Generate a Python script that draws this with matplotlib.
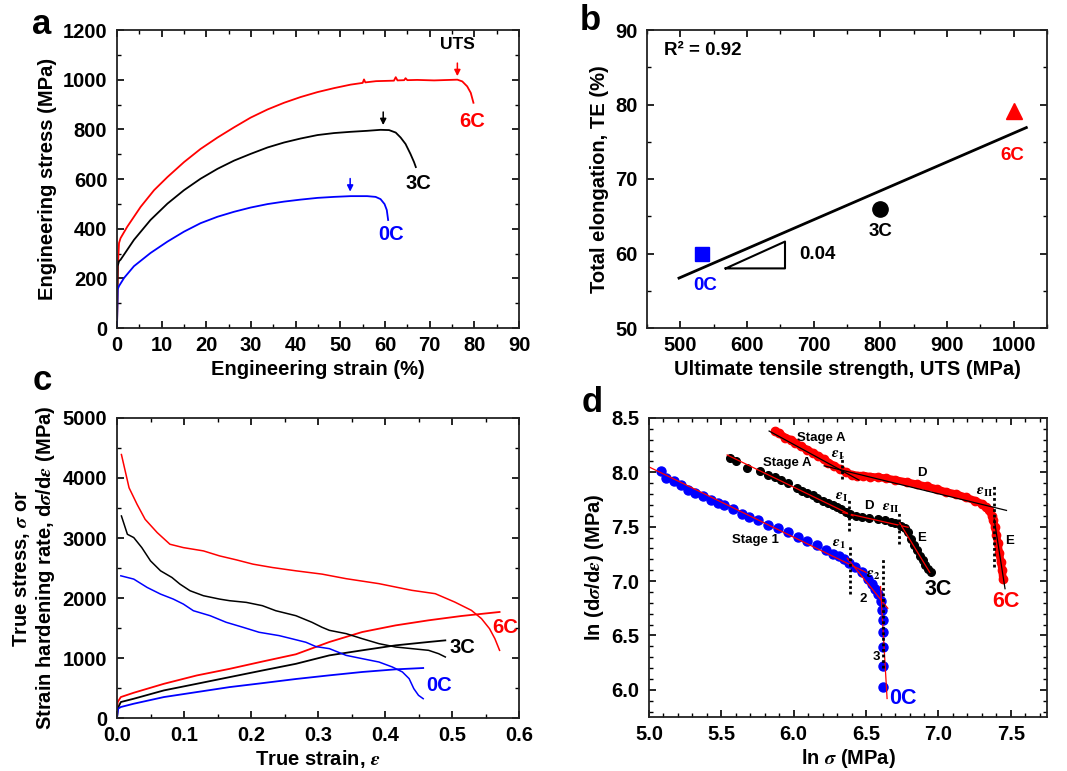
# -*- coding: utf-8 -*-
"""
Four-panel tensile figure:
a) engineering stress-strain, b) TE vs UTS, c) true stress / hardening rate,
d) ln(dσ/dε) vs ln σ with stage fits.
"""

import matplotlib
matplotlib.use("Agg")
import matplotlib.pyplot as plt
from matplotlib.ticker import MultipleLocator

plt.rcParams["font.family"] = ["Liberation Sans", "DejaVu Sans"]
plt.rcParams["font.weight"] = "bold"
plt.rcParams["axes.labelweight"] = "bold"
plt.rcParams["mathtext.fontset"] = "stix"

RED, BLACK, BLUE = "#ff0000", "#000000", "#0000ff"

# -------------------------------------------------------------------
# a) engineering stress (MPa) vs engineering strain (%)
# -------------------------------------------------------------------
eng_strain_6c = [0, 0.2, 0.45, 0.8, 2.3, 5.3, 8.3, 11.3, 15, 18.7, 22.5, 26.2, 29.9, 33.7,
                 37.4, 41.1, 44.9, 48.6, 52.3, 55.0, 55.3, 55.6, 58.0, 62.0, 62.4, 62.8,
                 64.3, 64.6, 65.0, 67.2, 71, 76.2, 77.3, 78.4, 79.2, 79.8]
eng_stress_6c = [0, 249, 342, 362, 408, 488, 555, 608, 668, 721, 767, 808, 847, 880,
                 907, 930, 950, 966, 980, 987, 1001, 989, 994, 996, 1010, 997,
                 998, 1006, 998, 999, 997, 1000, 993, 973, 947, 907]
eng_strain_3c = [0, 0.15, 0.45, 0.8, 3.8, 7.5, 11.3, 15, 18.7, 22.5, 26.2, 29.9, 33.7, 37.4,
                 41.1, 44.9, 48.6, 52.3, 56, 59, 60.9, 62.4, 63.5, 64.6, 65.7, 66.5, 66.9]
eng_stress_3c = [0, 249, 269, 275, 355, 435, 501, 555, 601, 641, 674, 701, 727, 747,
                 763, 777, 785, 790, 794, 798, 797, 787, 767, 741, 701, 668, 648]
eng_strain_0c = [0, 0.15, 0.45, 1.6, 3.8, 7.5, 11.3, 15, 18.7, 22.5, 26.2, 29.9, 33.7, 37.4,
                 41.1, 44.9, 48.6, 52.3, 56, 57.9, 59, 59.9, 60.4, 60.7]
eng_stress_0c = [0, 156, 169, 202, 249, 302, 348, 388, 422, 448, 468, 485, 499, 509,
                 517, 524, 528, 531, 531, 528, 519, 499, 475, 435]

# UTS arrows: (strain, stress at arrow tip)
uts_arrows = [(76.2, 1003, RED), (59.6, 806, BLACK), (52.2, 538, BLUE)]

# -------------------------------------------------------------------
# b) total elongation vs UTS
# -------------------------------------------------------------------
uts_mpa = [533, 799, 1000]
te_pct = [60.0, 66.0, 79.1]
fit_uts = [498, 1019]
fit_te = [56.7, 76.9]
slope_tri_x = [568, 657, 657, 568]
slope_tri_y = [58.0, 58.0, 61.6, 58.0]

# -------------------------------------------------------------------
# c) true stress and strain hardening rate vs true strain
# -------------------------------------------------------------------
hr_strain_6c = [0.0066, 0.018, 0.030, 0.042, 0.060, 0.079, 0.099, 0.129, 0.153, 0.178,
                0.203, 0.232, 0.267, 0.306, 0.342, 0.391, 0.44, 0.475, 0.504, 0.529,
                0.544, 0.556, 0.564, 0.571]
hr_6c = [4391, 3837, 3560, 3311, 3090, 2896, 2840, 2785, 2702, 2636,
         2564, 2508, 2453, 2398, 2322, 2239, 2128, 2072, 1933, 1794,
         1656, 1489, 1322, 1128]
ts_strain_6c = [0, 0.001, 0.0057, 0.025, 0.070, 0.119, 0.168, 0.217, 0.267, 0.317,
                0.366, 0.416, 0.465, 0.514, 0.571]
ts_6c = [0, 266, 349, 421, 570, 709, 819, 941, 1062, 1267, 1433, 1544, 1628, 1700, 1767]

hr_strain_3c = [0.0066, 0.0155, 0.025, 0.037, 0.050, 0.065, 0.082, 0.094, 0.109, 0.129,
                0.153, 0.168, 0.193, 0.217, 0.237, 0.267, 0.291, 0.306, 0.317, 0.342,
                0.366, 0.391, 0.416, 0.44, 0.465, 0.48, 0.49]
hr_3c = [3367, 3062, 3007, 2840, 2619, 2453, 2342, 2231, 2121, 2038,
         1982, 1955, 1927, 1872, 1788, 1705, 1595, 1512, 1461, 1406,
         1322, 1239, 1183, 1156, 1128, 1072, 1017]
ts_strain_3c = [0, 0.001, 0.0057, 0.025, 0.070, 0.119, 0.168, 0.217, 0.267, 0.317,
                0.366, 0.416, 0.465, 0.49]
ts_3c = [0, 155, 266, 321, 460, 570, 681, 792, 903, 1044, 1128, 1211, 1267, 1294]

hr_strain_0c = [0.0057, 0.025, 0.045, 0.065, 0.084, 0.099, 0.114, 0.139, 0.163, 0.188,
                0.212, 0.242, 0.262, 0.282, 0.297, 0.317, 0.342, 0.366, 0.391, 0.411,
                0.426, 0.436, 0.443, 0.45, 0.457]
hr_0c = [2370, 2315, 2176, 2065, 1982, 1899, 1788, 1705, 1595, 1512,
         1429, 1373, 1318, 1262, 1190, 1156, 1044, 989, 933, 850,
         767, 656, 489, 378, 322]
ts_strain_0c = [0, 0.0017, 0.0057, 0.025, 0.070, 0.119, 0.168, 0.217, 0.267, 0.317,
                0.366, 0.416, 0.457]
ts_0c = [0, 155, 183, 238, 349, 432, 515, 581, 650, 711, 767, 811, 833]

# -------------------------------------------------------------------
# d) ln(dσ/dε) vs ln σ
# -------------------------------------------------------------------
ln_s_0c = [5.08, 5.12, 5.17, 5.22, 5.27, 5.32, 5.37, 5.43, 5.48, 5.52, 5.58, 5.64, 5.69,
           5.75, 5.82, 5.89, 5.96, 6.03, 6.09, 6.16, 6.22, 6.27, 6.31, 6.35, 6.38, 6.42,
           6.47, 6.51, 6.54, 6.56, 6.58, 6.60, 6.61, 6.62, 6.62, 6.62, 6.62, 6.62]
ln_h_0c = [8.01, 7.95, 7.92, 7.88, 7.84, 7.81, 7.78, 7.75, 7.72, 7.70, 7.66, 7.62, 7.59,
           7.56, 7.52, 7.49, 7.45, 7.41, 7.37, 7.33, 7.29, 7.25, 7.23, 7.20, 7.17, 7.13,
           7.08, 7.02, 6.97, 6.93, 6.88, 6.82, 6.73, 6.64, 6.53, 6.39, 6.22, 6.03]
ln_s_3c = [5.56, 5.60, 5.68, 5.77, 5.82, 5.87, 5.91, 5.96, 6.02, 6.06, 6.09, 6.13, 6.16,
           6.20, 6.24, 6.27, 6.30, 6.33, 6.36, 6.39, 6.43, 6.47, 6.52, 6.58, 6.63, 6.67,
           6.70, 6.74, 6.77, 6.79, 6.81, 6.83, 6.85, 6.87, 6.89, 6.91, 6.93, 6.95]
ln_h_3c = [8.13, 8.10, 8.04, 8.01, 7.98, 7.96, 7.93, 7.90, 7.86, 7.83, 7.81, 7.79, 7.76,
           7.74, 7.72, 7.70, 7.68, 7.66, 7.64, 7.62, 7.60, 7.59, 7.58, 7.57, 7.56, 7.54,
           7.53, 7.51, 7.49, 7.45, 7.39, 7.33, 7.29, 7.23, 7.19, 7.15, 7.11, 7.08]
ln_s_6c = [5.87, 5.90, 5.94, 5.98, 6.01, 6.05, 6.09, 6.13, 6.17, 6.21, 6.24, 6.28, 6.32,
           6.36, 6.40, 6.44, 6.48, 6.53, 6.58, 6.64, 6.70, 6.78, 6.85, 6.92, 6.99, 7.05,
           7.12, 7.19, 7.25, 7.30, 7.33, 7.35, 7.37, 7.38, 7.39, 7.40, 7.41, 7.42, 7.43,
           7.44, 7.445]
ln_h_6c = [8.38, 8.36, 8.32, 8.30, 8.27, 8.24, 8.21, 8.18, 8.15, 8.12, 8.09, 8.06, 8.03,
           8.00, 7.98, 7.97, 7.97, 7.96, 7.955, 7.945, 7.93, 7.91, 7.89, 7.87, 7.845, 7.82,
           7.80, 7.77, 7.74, 7.71, 7.68, 7.65, 7.60, 7.56, 7.50, 7.42, 7.35, 7.26, 7.18,
           7.10, 7.02]

# stage fits: ((x0, x1), (y0, y1))
fits_0c = [((5.0, 6.50), (8.05, 7.08)), ((6.37, 6.65), (7.21, 6.75)), ((6.60, 6.645), (6.95, 5.92))]
fits_3c = [((5.54, 6.41), (8.16, 7.60)), ((6.34, 6.79), (7.63, 7.495)), ((6.73, 6.94), (7.54, 7.08))]
fits_6c = [((5.83, 6.45), (8.38, 7.93)), ((6.21, 7.47), (8.06, 7.65)), ((7.385, 7.46), (7.57, 6.93))]
# transition strains (dotted): (x, y_low, y_high)
transitions = [(6.39, 6.88, 7.33), (6.614, 6.20, 7.21), (6.383, 7.46, 7.76),
               (6.726, 7.34, 7.63), (6.332, 7.94, 8.15), (7.385, 7.13, 7.89)]


def style_ax(ax):
    ax.tick_params(which="both", direction="in", top=True, right=True, labelsize=14.5)
    ax.tick_params(axis="x", which="major", pad=6)
    ax.tick_params(axis="y", which="major", pad=7)
    ax.tick_params(which="major", length=5, width=1.2)
    ax.tick_params(which="minor", length=3, width=1.0)
    for s in ax.spines.values():
        s.set_linewidth(1.3)
        s.set_color("#222222")


def panel_a(ax):
    ax.plot(eng_strain_6c, eng_stress_6c, color=RED, lw=1.3)
    ax.plot(eng_strain_3c, eng_stress_3c, color=BLACK, lw=1.3)
    ax.plot(eng_strain_0c, eng_stress_0c, color=BLUE, lw=1.3)
    for x, y, c in uts_arrows:
        ax.annotate("", xy=(x, y), xytext=(x, y + 75),
                    arrowprops=dict(arrowstyle="-|>", color=c, lw=1.1, mutation_scale=9))
    ax.text(76.2, 1140, "UTS", ha="center", va="center", fontsize=12.5)
    ax.text(79.6, 831, "6C", color=RED, ha="center", va="center", fontsize=14.5)
    ax.text(67.5, 581, "3C", color=BLACK, ha="center", va="center", fontsize=14.5)
    ax.text(61.3, 375, "0C", color=BLUE, ha="center", va="center", fontsize=14.5)
    ax.set_xlim(0, 90)
    ax.set_ylim(0, 1200)
    ax.xaxis.set_major_locator(MultipleLocator(10))
    ax.xaxis.set_minor_locator(MultipleLocator(5))
    ax.yaxis.set_major_locator(MultipleLocator(200))
    ax.yaxis.set_minor_locator(MultipleLocator(100))
    ax.set_xlabel("Engineering strain (%)", fontsize=14.5, labelpad=3)
    ax.set_ylabel("Engineering stress (MPa)", fontsize=14.5)


def panel_b(ax):
    ax.plot(fit_uts, fit_te, color=BLACK, lw=2)
    ax.plot(slope_tri_x, slope_tri_y, color=BLACK, lw=1.5)
    ax.plot(uts_mpa[0], te_pct[0], "s", color=BLUE, ms=10)
    ax.plot(uts_mpa[1], te_pct[1], "o", color=BLACK, ms=11)
    ax.plot(uts_mpa[2], te_pct[2], "^", color=RED, ms=12)
    ax.text(475, 87.2, "R² = 0.92", ha="left", va="center", fontsize=13.5)
    ax.text(678, 59.9, "0.04", ha="left", va="center", fontsize=13.5)
    ax.text(538, 55.7, "0C", color=BLUE, ha="center", va="center", fontsize=13.5)
    ax.text(801, 63.0, "3C", color=BLACK, ha="center", va="center", fontsize=13.5)
    ax.text(998, 73.2, "6C", color=RED, ha="center", va="center", fontsize=13.5)
    ax.set_xlim(450, 1050)
    ax.set_ylim(50, 90)
    ax.xaxis.set_major_locator(MultipleLocator(100))
    ax.xaxis.set_minor_locator(MultipleLocator(50))
    ax.yaxis.set_major_locator(MultipleLocator(10))
    ax.yaxis.set_minor_locator(MultipleLocator(5))
    ax.set_xlabel("Ultimate tensile strength, UTS (MPa)", fontsize=14.5, labelpad=3)
    ax.set_ylabel("Total elongation, TE (%)", fontsize=14.5)


def panel_c(ax):
    ax.plot(hr_strain_6c, hr_6c, color=RED, lw=1.1)
    ax.plot(ts_strain_6c, ts_6c, color=RED, lw=1.3)
    ax.plot(hr_strain_3c, hr_3c, color=BLACK, lw=1.1)
    ax.plot(ts_strain_3c, ts_3c, color=BLACK, lw=1.3)
    ax.plot(hr_strain_0c, hr_0c, color=BLUE, lw=1.1)
    ax.plot(ts_strain_0c, ts_0c, color=BLUE, lw=1.3)
    ax.text(0.579, 1510, "6C", color=RED, ha="center", va="center", fontsize=14.5)
    ax.text(0.516, 1167, "3C", color=BLACK, ha="center", va="center", fontsize=14.5)
    ax.text(0.481, 544, "0C", color=BLUE, ha="center", va="center", fontsize=14.5)
    ax.set_xlim(0, 0.6)
    ax.set_ylim(0, 5000)
    ax.xaxis.set_major_locator(MultipleLocator(0.1))
    ax.xaxis.set_minor_locator(MultipleLocator(0.05))
    ax.yaxis.set_major_locator(MultipleLocator(1000))
    ax.yaxis.set_minor_locator(MultipleLocator(500))
    ax.set_xlabel(r"True strain, $\varepsilon$", fontsize=14.5, labelpad=2)
    ax.set_ylabel("True stress, $\\sigma$ or\nStrain hardening rate, d$\\sigma$/d$\\varepsilon$ (MPa)",
                  fontsize=14.5, linespacing=1.1)


def panel_d(ax):
    ax.plot(ln_s_6c, ln_h_6c, color=RED, lw=5.5, solid_capstyle="round")
    ax.plot(ln_s_6c, ln_h_6c, "o", color=RED, ms=6)
    ax.plot(ln_s_3c, ln_h_3c, "o", color=BLACK, ms=5.5)
    ax.plot(ln_s_0c, ln_h_0c, "o", color=BLUE, ms=6.5)
    for xs, ys in fits_0c + fits_3c:
        ax.plot(xs, ys, color=RED, lw=0.9)
    for xs, ys in fits_6c:
        ax.plot(xs, ys, color=BLACK, lw=0.9)
    for x, y0, y1 in transitions:
        ax.plot([x, x], [y0, y1], color=BLACK, lw=2, ls=(0, (1, 1)))

    small = dict(ha="center", va="center", fontsize=9.5)
    ax.text(6.19, 8.32, "Stage A", **small)
    ax.text(5.955, 8.09, "Stage A", **small)
    ax.text(5.733, 7.38, "Stage 1", **small)
    ax.text(6.882, 7.99, "D", **small)
    ax.text(6.516, 7.694, "D", **small)
    ax.text(6.882, 7.394, "E", **small)
    ax.text(7.493, 7.373, "E", **small)
    ax.text(6.48, 6.836, "2", **small)
    ax.text(6.573, 6.30, "3", **small)
    eps = dict(ha="center", va="center", fontsize=11)
    ax.text(6.30, 8.16, r"$\varepsilon_{\mathrm{I}}$", **eps)
    ax.text(6.332, 7.77, r"$\varepsilon_{\mathrm{I}}$", **eps)
    ax.text(6.67, 7.67, r"$\varepsilon_{\mathrm{II}}$", **eps)
    ax.text(7.317, 7.817, r"$\varepsilon_{\mathrm{II}}$", **eps)
    ax.text(6.31, 7.342, r"$\varepsilon_{1}$", **eps)
    ax.text(6.55, 7.057, r"$\varepsilon_{2}$", **eps)
    ax.text(6.996, 6.92, "3C", color=BLACK, ha="center", va="center", fontsize=15.5)
    ax.text(7.466, 6.81, "6C", color=RED, ha="center", va="center", fontsize=15.5)
    ax.text(6.66, 5.92, "0C", color=BLUE, ha="left", va="center", fontsize=15.5)

    ax.set_xlim(5.0, 7.75)
    ax.set_ylim(5.75, 8.5)
    ax.xaxis.set_major_locator(MultipleLocator(0.5))
    ax.xaxis.set_minor_locator(MultipleLocator(0.1))
    ax.yaxis.set_major_locator(MultipleLocator(0.5))
    ax.yaxis.set_minor_locator(MultipleLocator(0.1))
    ax.xaxis.set_major_formatter(plt.FormatStrFormatter("%.1f"))
    ax.yaxis.set_major_formatter(plt.FormatStrFormatter("%.1f"))
    ax.set_xlabel(r"ln $\sigma$ (MPa)", fontsize=14.5, labelpad=2)
    ax.set_ylabel(r"ln (d$\sigma$/d$\varepsilon$) (MPa)", fontsize=14.5)


def main():
    W, H = 1067, 771
    fig = plt.figure(figsize=(W / 100, H / 100), dpi=100)

    def box(l, r, t, b):
        return [l / W, (H - b) / H, (r - l) / W, (b - t) / H]

    ax_a = fig.add_axes(box(117, 519, 30, 328))
    ax_b = fig.add_axes(box(647, 1047, 30, 328))
    ax_c = fig.add_axes(box(117, 519, 418, 718))
    ax_d = fig.add_axes(box(649, 1047, 418, 717))

    for ax in (ax_a, ax_b, ax_c, ax_d):
        style_ax(ax)

    panel_a(ax_a)
    panel_b(ax_b)
    panel_c(ax_c)
    panel_d(ax_d)

    for lab, x, y in [("a", 42, 24), ("b", 590, 20), ("c", 42, 381), ("d", 592, 403)]:
        fig.text(x / W, 1 - y / H, lab, ha="center", va="center", fontsize=25, fontweight="bold")

    fig.savefig("out.png", dpi=100)


if __name__ == "__main__":
    main()
